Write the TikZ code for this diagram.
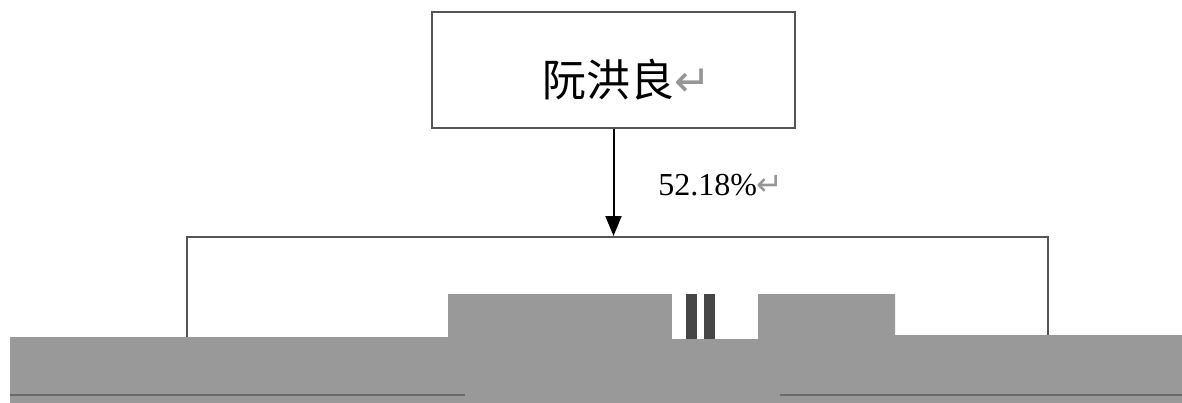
\documentclass[tikz,border=0pt]{standalone}
\usepackage{fontspec}
\setmainfont{Liberation Serif}
\newfontfamily\cjk{Noto Sans CJK SC}
\newfontfamily\symb{DejaVu Sans}
\usetikzlibrary{arrows.meta}
\definecolor{boxline}{RGB}{85,85,85}
\definecolor{retgray}{RGB}{150,150,150}
\definecolor{fillgray}{RGB}{153,153,153}
\definecolor{bargray}{RGB}{70,70,70}
\newcommand{\retmark}{{\symb\color{retgray}\char"21B5}}

\begin{document}
\begin{tikzpicture}[x=0.75pt,y=-0.75pt]
        \useasboundingbox (0,0) rectangle (1182,403);
        \node[draw=boxline, line width=1.4pt, minimum width=272pt, minimum height=87pt, inner sep=0pt] (holder) at (613.5,70) {};
        \node[font=\cjk\fontsize{33}{33}\selectfont, inner sep=0pt] (holdername) at (627,80) {阮洪良\retmark};
        \node[draw=boxline, line width=1.4pt, anchor=north west, minimum width=645.75pt, minimum height=150pt, inner sep=0pt] (company) at (186,236) {};
        \path[draw,line width=1.5pt,-{Triangle[length=15pt,width=12pt]}] (holder.south) -- (holder.south |- company.north);
        \node[font=\fontsize{24}{24}\selectfont, inner sep=0pt] (share) at (721,185) {52.18\%\retmark};
        % grey band over the lower part
        \fill[fillgray] (10,337) -- (448,337) -- (448,294) -- (895,294) -- (895,335) -- (1182,335) -- (1182,403) -- (10,403) -- cycle;
        \fill[white] (672,294) rectangle (758,339);
        \fill[bargray] (686,294) rectangle (697,339);
        \fill[bargray] (704,294) rectangle (715,339);
        \draw[line width=1.5pt, bargray!80] (10,395) -- (465,395);
        \draw[line width=1.5pt, bargray!80] (780,395) -- (1182,395);
    \end{tikzpicture}
\end{document}
